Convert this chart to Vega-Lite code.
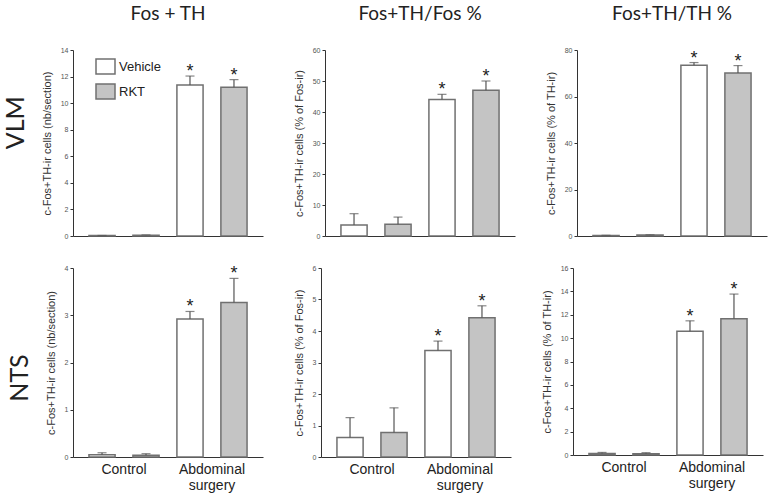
{
  "$schema": "https://vega.github.io/schema/vega-lite/v6.json",
  "padding": {"left": 4, "top": 5, "right": 2, "bottom": 2},
  "config": {
    "view": {"stroke": null},
    "font": "Liberation Sans",
    "axisY": {
      "domainColor": "#333333",
      "tickColor": "#333333",
      "tickSize": 3,
      "labelFontSize": 7,
      "labelColor": "#555555",
      "labelPadding": 2,
      "titleFontSize": 11,
      "titleFontWeight": "normal",
      "titleColor": "#333333",
      "titlePadding": 8,
      "grid": false
    },
    "axisX": {
      "domainColor": "#333333",
      "ticks": false,
      "title": null,
      "labelAngle": 0,
      "labelFontSize": 14,
      "labelColor": "#222222",
      "labelPadding": 5
    },
    "title": {"font": "Lato", "fontSize": 19, "fontWeight": "normal", "color": "#222222"}
  },
  "datasets": {
    "bars": [
      {"region": "VLM", "measure": "count", "group": "Control", "treatment": "Vehicle", "mean": 0.03, "upper": 0.04, "sig": ""},
      {"region": "VLM", "measure": "count", "group": "Control", "treatment": "RKT", "mean": 0.06, "upper": 0.08, "sig": ""},
      {"region": "VLM", "measure": "count", "group": "Abdominal surgery", "treatment": "Vehicle", "mean": 11.36, "upper": 12.04, "sig": "*"},
      {"region": "VLM", "measure": "count", "group": "Abdominal surgery", "treatment": "RKT", "mean": 11.19, "upper": 11.77, "sig": "*"},
      {"region": "VLM", "measure": "pctFos", "group": "Control", "treatment": "Vehicle", "mean": 3.55, "upper": 7.2, "sig": ""},
      {"region": "VLM", "measure": "pctFos", "group": "Control", "treatment": "RKT", "mean": 3.76, "upper": 6.1, "sig": ""},
      {"region": "VLM", "measure": "pctFos", "group": "Abdominal surgery", "treatment": "Vehicle", "mean": 44.0, "upper": 45.7, "sig": "*"},
      {"region": "VLM", "measure": "pctFos", "group": "Abdominal surgery", "treatment": "RKT", "mean": 47.0, "upper": 50.0, "sig": "*"},
      {"region": "VLM", "measure": "pctTH", "group": "Control", "treatment": "Vehicle", "mean": 0.2, "upper": 0.3, "sig": ""},
      {"region": "VLM", "measure": "pctTH", "group": "Control", "treatment": "RKT", "mean": 0.4, "upper": 0.5, "sig": ""},
      {"region": "VLM", "measure": "pctTH", "group": "Abdominal surgery", "treatment": "Vehicle", "mean": 73.4, "upper": 74.6, "sig": "*"},
      {"region": "VLM", "measure": "pctTH", "group": "Abdominal surgery", "treatment": "RKT", "mean": 70.1, "upper": 73.3, "sig": "*"},
      {"region": "NTS", "measure": "count", "group": "Control", "treatment": "Vehicle", "mean": 0.05, "upper": 0.09, "sig": ""},
      {"region": "NTS", "measure": "count", "group": "Control", "treatment": "RKT", "mean": 0.035, "upper": 0.07, "sig": ""},
      {"region": "NTS", "measure": "count", "group": "Abdominal surgery", "treatment": "Vehicle", "mean": 2.92, "upper": 3.08, "sig": "*"},
      {"region": "NTS", "measure": "count", "group": "Abdominal surgery", "treatment": "RKT", "mean": 3.27, "upper": 3.78, "sig": "*"},
      {"region": "NTS", "measure": "pctFos", "group": "Control", "treatment": "Vehicle", "mean": 0.62, "upper": 1.25, "sig": ""},
      {"region": "NTS", "measure": "pctFos", "group": "Control", "treatment": "RKT", "mean": 0.78, "upper": 1.56, "sig": ""},
      {"region": "NTS", "measure": "pctFos", "group": "Abdominal surgery", "treatment": "Vehicle", "mean": 3.38, "upper": 3.68, "sig": "*"},
      {"region": "NTS", "measure": "pctFos", "group": "Abdominal surgery", "treatment": "RKT", "mean": 4.42, "upper": 4.8, "sig": "*"},
      {"region": "NTS", "measure": "pctTH", "group": "Control", "treatment": "Vehicle", "mean": 0.12, "upper": 0.22, "sig": ""},
      {"region": "NTS", "measure": "pctTH", "group": "Control", "treatment": "RKT", "mean": 0.1, "upper": 0.2, "sig": ""},
      {"region": "NTS", "measure": "pctTH", "group": "Abdominal surgery", "treatment": "Vehicle", "mean": 10.59, "upper": 11.48, "sig": "*"},
      {"region": "NTS", "measure": "pctTH", "group": "Abdominal surgery", "treatment": "RKT", "mean": 11.65, "upper": 13.77, "sig": "*"}
    ]
  },
  "spacing": 23,
  "resolve": {"scale": {"y": "independent"}, "legend": {"fill": "independent"}},
  "vconcat": [
    {
      "title": {"text": "VLM", "orient": "left", "anchor": "middle", "fontSize": 25, "offset": 12},
      "spacing": 30,
      "resolve": {"scale": {"y": "independent"}, "legend": {"fill": "independent"}},
      "hconcat": [
        {
          "title": {"text": "Fos + TH", "offset": 22},
          "width": 190, "height": 186,
          "data": {"name": "bars"},
          "transform": [{"filter": "datum.region == 'VLM' && datum.measure == 'count'"}],
          "encoding": {
            "x": {"field": "group", "type": "nominal", "sort": ["Control", "Abdominal surgery"], "scale": {"paddingInner": 0, "paddingOuter": 0.08}, "axis": {"labels": false}},
            "xOffset": {"field": "treatment", "type": "nominal", "sort": ["Vehicle", "RKT"], "scale": {"paddingInner": 0.405, "paddingOuter": 0.2025}},
            "y": {"field": "mean", "type": "quantitative", "scale": {"domain": [0, 14]}, "axis": {"values": [0, 2, 4, 6, 8, 10, 12, 14], "title": "c-Fos+TH-ir cells (nb/section)"}}
          },
          "layer": [
            {"mark": {"type": "bar", "stroke": "#707070", "strokeWidth": 1.5},
             "encoding": {"fill": {"field": "treatment", "type": "nominal", "scale": {"domain": ["Vehicle", "RKT"], "range": ["#ffffff", "#c4c4c4"]},
               "legend": {"title": null, "orient": "none", "legendX": 22, "legendY": 6, "labelFontSize": 13, "labelColor": "#222222", "symbolType": "M-1,-0.79H1V0.79H-1Z", "symbolSize": 361, "symbolStrokeColor": "#707070", "symbolStrokeWidth": 1.5, "rowPadding": 2, "labelOffset": 3}}}},
            {"mark": {"type": "rule", "color": "#555555", "strokeWidth": 1.2}, "encoding": {"y2": {"field": "upper"}}},
            {"mark": {"type": "tick", "color": "#555555", "size": 9, "thickness": 1.2}, "encoding": {"y": {"field": "upper", "type": "quantitative"}}},
            {"mark": {"type": "text", "fontSize": 18, "dy": 1, "baseline": "alphabetic", "color": "#222222"}, "encoding": {"y": {"field": "upper", "type": "quantitative"}, "text": {"field": "sig"}}}
          ]
        },
        {
          "title": {"text": "Fos+TH/Fos %", "offset": 22},
          "width": 190, "height": 186,
          "data": {"name": "bars"},
          "transform": [{"filter": "datum.region == 'VLM' && datum.measure == 'pctFos'"}],
          "encoding": {
            "x": {"field": "group", "type": "nominal", "sort": ["Control", "Abdominal surgery"], "scale": {"paddingInner": 0, "paddingOuter": 0.08}, "axis": {"labels": false}},
            "xOffset": {"field": "treatment", "type": "nominal", "sort": ["Vehicle", "RKT"], "scale": {"paddingInner": 0.405, "paddingOuter": 0.2025}},
            "y": {"field": "mean", "type": "quantitative", "scale": {"domain": [0, 60]}, "axis": {"values": [0, 10, 20, 30, 40, 50, 60], "title": "c-Fos+TH-ir cells (% of Fos-ir)"}}
          },
          "layer": [
            {"mark": {"type": "bar", "stroke": "#707070", "strokeWidth": 1.5},
             "encoding": {"fill": {"field": "treatment", "type": "nominal", "scale": {"domain": ["Vehicle", "RKT"], "range": ["#ffffff", "#c4c4c4"]}, "legend": null}}},
            {"mark": {"type": "rule", "color": "#555555", "strokeWidth": 1.2}, "encoding": {"y2": {"field": "upper"}}},
            {"mark": {"type": "tick", "color": "#555555", "size": 9, "thickness": 1.2}, "encoding": {"y": {"field": "upper", "type": "quantitative"}}},
            {"mark": {"type": "text", "fontSize": 18, "dy": 1, "baseline": "alphabetic", "color": "#222222"}, "encoding": {"y": {"field": "upper", "type": "quantitative"}, "text": {"field": "sig"}}}
          ]
        },
        {
          "title": {"text": "Fos+TH/TH %", "offset": 22},
          "width": 190, "height": 186,
          "data": {"name": "bars"},
          "transform": [{"filter": "datum.region == 'VLM' && datum.measure == 'pctTH'"}],
          "encoding": {
            "x": {"field": "group", "type": "nominal", "sort": ["Control", "Abdominal surgery"], "scale": {"paddingInner": 0, "paddingOuter": 0.08}, "axis": {"labels": false}},
            "xOffset": {"field": "treatment", "type": "nominal", "sort": ["Vehicle", "RKT"], "scale": {"paddingInner": 0.405, "paddingOuter": 0.2025}},
            "y": {"field": "mean", "type": "quantitative", "scale": {"domain": [0, 80]}, "axis": {"values": [0, 20, 40, 60, 80], "title": "c-Fos+TH-ir cells (% of TH-ir)"}}
          },
          "layer": [
            {"mark": {"type": "bar", "stroke": "#707070", "strokeWidth": 1.5},
             "encoding": {"fill": {"field": "treatment", "type": "nominal", "scale": {"domain": ["Vehicle", "RKT"], "range": ["#ffffff", "#c4c4c4"]}, "legend": null}}},
            {"mark": {"type": "rule", "color": "#555555", "strokeWidth": 1.2}, "encoding": {"y2": {"field": "upper"}}},
            {"mark": {"type": "tick", "color": "#555555", "size": 9, "thickness": 1.2}, "encoding": {"y": {"field": "upper", "type": "quantitative"}}},
            {"mark": {"type": "text", "fontSize": 18, "dy": 1, "baseline": "alphabetic", "color": "#222222"}, "encoding": {"y": {"field": "upper", "type": "quantitative"}, "text": {"field": "sig"}}}
          ]
        }
      ]
    },
    {
      "title": {"text": "NTS", "orient": "left", "anchor": "middle", "fontSize": 25, "offset": 12},
      "spacing": 30,
      "resolve": {"scale": {"y": "independent"}, "legend": {"fill": "independent"}},
      "hconcat": [
        {
          "width": 190, "height": 189,
          "data": {"name": "bars"},
          "transform": [{"filter": "datum.region == 'NTS' && datum.measure == 'count'"}],
          "encoding": {
            "x": {"field": "group", "type": "nominal", "sort": ["Control", "Abdominal surgery"], "scale": {"paddingInner": 0, "paddingOuter": 0.08}, "axis": {"labelExpr": "split(datum.label, ' ')"}},
            "xOffset": {"field": "treatment", "type": "nominal", "sort": ["Vehicle", "RKT"], "scale": {"paddingInner": 0.405, "paddingOuter": 0.2025}},
            "y": {"field": "mean", "type": "quantitative", "scale": {"domain": [0, 4]}, "axis": {"values": [0, 1, 2, 3, 4], "title": "c-Fos+TH-ir cells (nb/section)"}}
          },
          "layer": [
            {"mark": {"type": "bar", "stroke": "#707070", "strokeWidth": 1.5},
             "encoding": {"fill": {"field": "treatment", "type": "nominal", "scale": {"domain": ["Vehicle", "RKT"], "range": ["#ffffff", "#c4c4c4"]}, "legend": null}}},
            {"mark": {"type": "rule", "color": "#555555", "strokeWidth": 1.2}, "encoding": {"y2": {"field": "upper"}}},
            {"mark": {"type": "tick", "color": "#555555", "size": 9, "thickness": 1.2}, "encoding": {"y": {"field": "upper", "type": "quantitative"}}},
            {"mark": {"type": "text", "fontSize": 18, "dy": 1, "baseline": "alphabetic", "color": "#222222"}, "encoding": {"y": {"field": "upper", "type": "quantitative"}, "text": {"field": "sig"}}}
          ]
        },
        {
          "width": 190, "height": 189,
          "data": {"name": "bars"},
          "transform": [{"filter": "datum.region == 'NTS' && datum.measure == 'pctFos'"}],
          "encoding": {
            "x": {"field": "group", "type": "nominal", "sort": ["Control", "Abdominal surgery"], "scale": {"paddingInner": 0, "paddingOuter": 0.08}, "axis": {"labelExpr": "split(datum.label, ' ')"}},
            "xOffset": {"field": "treatment", "type": "nominal", "sort": ["Vehicle", "RKT"], "scale": {"paddingInner": 0.405, "paddingOuter": 0.2025}},
            "y": {"field": "mean", "type": "quantitative", "scale": {"domain": [0, 6]}, "axis": {"values": [0, 1, 2, 3, 4, 5, 6], "title": "c-Fos+TH-ir cells (% of Fos-ir)"}}
          },
          "layer": [
            {"mark": {"type": "bar", "stroke": "#707070", "strokeWidth": 1.5},
             "encoding": {"fill": {"field": "treatment", "type": "nominal", "scale": {"domain": ["Vehicle", "RKT"], "range": ["#ffffff", "#c4c4c4"]}, "legend": null}}},
            {"mark": {"type": "rule", "color": "#555555", "strokeWidth": 1.2}, "encoding": {"y2": {"field": "upper"}}},
            {"mark": {"type": "tick", "color": "#555555", "size": 9, "thickness": 1.2}, "encoding": {"y": {"field": "upper", "type": "quantitative"}}},
            {"mark": {"type": "text", "fontSize": 18, "dy": 1, "baseline": "alphabetic", "color": "#222222"}, "encoding": {"y": {"field": "upper", "type": "quantitative"}, "text": {"field": "sig"}}}
          ]
        },
        {
          "width": 190, "height": 187,
          "data": {"name": "bars"},
          "transform": [{"filter": "datum.region == 'NTS' && datum.measure == 'pctTH'"}],
          "encoding": {
            "x": {"field": "group", "type": "nominal", "sort": ["Control", "Abdominal surgery"], "scale": {"paddingInner": 0, "paddingOuter": 0.08}, "axis": {"labelExpr": "split(datum.label, ' ')"}},
            "xOffset": {"field": "treatment", "type": "nominal", "sort": ["Vehicle", "RKT"], "scale": {"paddingInner": 0.405, "paddingOuter": 0.2025}},
            "y": {"field": "mean", "type": "quantitative", "scale": {"domain": [0, 16]}, "axis": {"values": [0, 2, 4, 6, 8, 10, 12, 14, 16], "title": "c-Fos+TH-ir cells (% of TH-ir)"}}
          },
          "layer": [
            {"mark": {"type": "bar", "stroke": "#707070", "strokeWidth": 1.5},
             "encoding": {"fill": {"field": "treatment", "type": "nominal", "scale": {"domain": ["Vehicle", "RKT"], "range": ["#ffffff", "#c4c4c4"]}, "legend": null}}},
            {"mark": {"type": "rule", "color": "#555555", "strokeWidth": 1.2}, "encoding": {"y2": {"field": "upper"}}},
            {"mark": {"type": "tick", "color": "#555555", "size": 9, "thickness": 1.2}, "encoding": {"y": {"field": "upper", "type": "quantitative"}}},
            {"mark": {"type": "text", "fontSize": 18, "dy": 1, "baseline": "alphabetic", "color": "#222222"}, "encoding": {"y": {"field": "upper", "type": "quantitative"}, "text": {"field": "sig"}}}
          ]
        }
      ]
    }
  ]
}
